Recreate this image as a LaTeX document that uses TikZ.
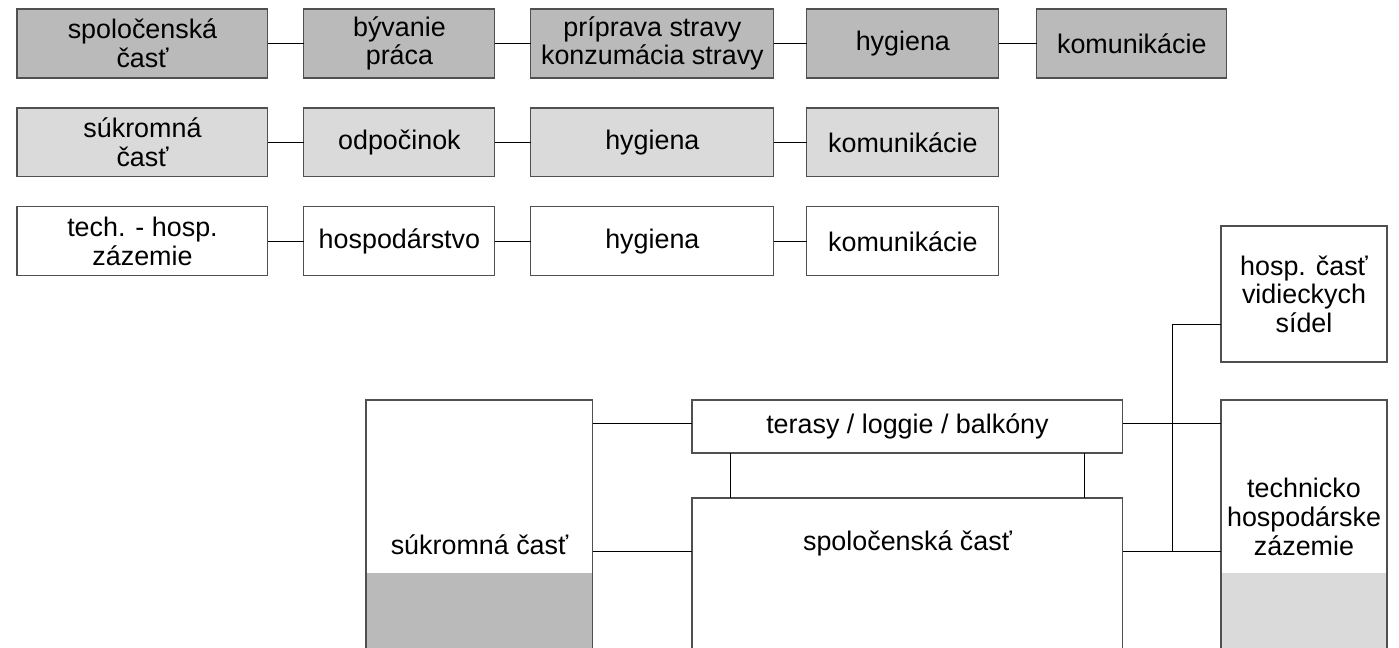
\documentclass[tikz,border=0pt]{standalone}
\usepackage{fontspec}
\setmainfont{Liberation Sans}
\usetikzlibrary{positioning}

\definecolor{tmava}{HTML}{BABABA}
\definecolor{svetla}{HTML}{DADADA}
\definecolor{ram}{HTML}{505050}

\begin{document}
\begin{tikzpicture}[
    x=0.02cm, y=-0.02cm,
    node distance=0.72cm,
    every node/.style={font=\fontsize{15.3}{16.3}\selectfont},
    box/.style={draw=ram, line width=0.6pt, minimum height=1.38cm, align=center, inner sep=1pt, outer sep=0pt},
    tmavy/.style={box, fill=tmava},
    svetly/.style={box, fill=svetla},
    biely/.style={box, fill=white},
    spoj/.style={black, line width=0.5pt}
]
\clip (0,0) rectangle (1399,648);

% prvy riadok - spolocenska cast
\node[tmavy, minimum width=5.02cm, anchor=north west] (a1) at (17,9) {spoločenská\\časť};
\node[tmavy, minimum width=3.82cm, right=of a1] (a2) {bývanie\\práca};
\node[tmavy, minimum width=4.86cm, right=of a2] (a3) {príprava stravy\\konzumácia stravy};
\node[tmavy, minimum width=3.84cm, right=0.66cm of a3] (a4) {hygiena};
\node[tmavy, minimum width=3.80cm, right=0.76cm of a4] (a5) {komunikácie};

% druhy riadok - sukromna cast
\node[svetly, minimum width=5.02cm, below=0.6cm of a1] (b1) {súkromná\\časť};
\node[svetly, minimum width=3.82cm, right=of b1] (b2) {odpočinok};
\node[svetly, minimum width=4.86cm, right=of b2] (b3) {hygiena};
\node[svetly, minimum width=3.84cm, right=0.66cm of b3] (b4) {komunikácie};

% treti riadok - zazemie
\node[biely, minimum width=5.02cm, below=0.6cm of b1] (c1) {tech. - hosp.\\zázemie};
\node[biely, minimum width=3.82cm, right=of c1] (c2) {hospodárstvo};
\node[biely, minimum width=4.86cm, right=of c2] (c3) {hygiena};
\node[biely, minimum width=3.84cm, right=0.66cm of c3] (c4) {komunikácie};

% spojnice v riadkoch
\foreach \r/\n in {a/5, b/4, c/4} {
  \foreach \i [evaluate=\i as \j using int(\i+1)] in {1,...,\n} {
    \ifnum\i<\n \draw[spoj] (\r\i.east) -- (\r\j.west); \fi
  }
}

% dolna schema
\fill[tmava] (366,573) rectangle (593,700);
\fill[svetla] (1221,573) rectangle (1387,700);
\node[box, minimum width=4.54cm, minimum height=6cm, anchor=north west] (suk) at (366,400) {};
\node[box, minimum width=8.62cm, minimum height=1.06cm, anchor=north west] (ter) at (692,400) {terasy / loggie / balkóny};
\node[box, minimum width=8.62cm, minimum height=4.5cm, anchor=north west] (spol) at (692,498) {};
\node[box, minimum width=3.32cm, minimum height=2.72cm, anchor=north west] (hosp) at (1221,226) {hosp. časť\\vidieckych\\sídel};
\node[box, minimum width=3.32cm, minimum height=6cm, anchor=north west] (tech) at (1221,400) {};

% texty vo velkych boxoch
\node (suktext) at (479.5,545) {súkromná časť};
\node (spoltext) at (907.5,543) {spoločenská časť};
\node[align=center] (techtext) at (1304,517) {technicko\\hospodárske\\zázemie};

% spojnice dolnej schemy
\coordinate (hore) at (0,423);
\coordinate (dole) at (0,551);
\coordinate (os) at (1172,0);
\coordinate (hospy) at (0,324);
\draw[spoj] (suk.east |- hore) -- (ter.west |- hore);
\draw[spoj] (suk.east |- dole) -- (spol.west |- dole);
\draw[spoj] (ter.east |- hore) -- (tech.west |- hore);
\draw[spoj] (spol.east |- dole) -- (tech.west |- dole);
\draw[spoj] (os |- dole) -- (os |- hospy) -- (hosp.west |- hospy);
\draw[spoj] ([xshift=-3.55cm]ter.south) -- ([xshift=-3.55cm]spol.north);
\draw[spoj] ([xshift=3.55cm]ter.south) -- ([xshift=3.55cm]spol.north);

\end{tikzpicture}
\end{document}
